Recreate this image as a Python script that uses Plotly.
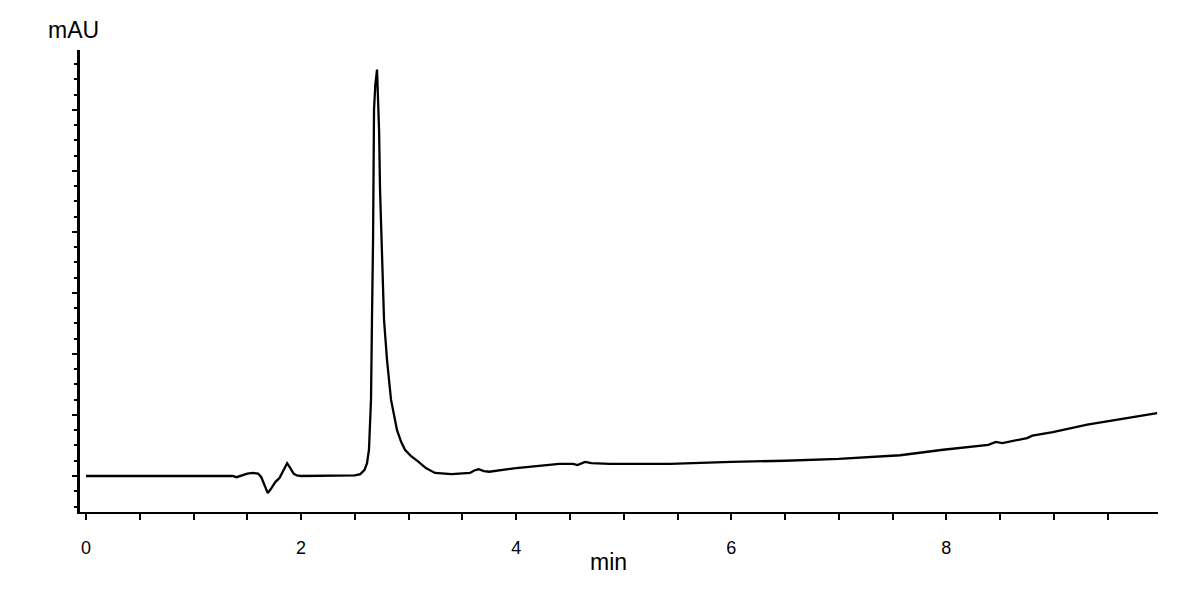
import plotly.graph_objects as go

time_min = [0.0, 1.36, 1.40, 1.45, 1.50, 1.55, 1.60, 1.63, 1.66, 1.69, 1.72, 1.76, 1.80,
            1.84, 1.87, 1.90, 1.93, 1.96, 2.0, 2.50, 2.55, 2.59, 2.613, 2.631, 2.650,
            2.659, 2.669, 2.678, 2.69, 2.706, 2.715, 2.725, 2.734, 2.743, 2.752, 2.762,
            2.771, 2.799, 2.836, 2.892, 2.93, 2.966, 3.02, 3.087, 3.16, 3.245, 3.40,
            3.57, 3.61, 3.65, 3.70, 3.75, 4.0, 4.4, 4.53, 4.57, 4.64, 4.70, 4.87, 5.43,
            5.6, 6.0, 6.5, 7.0, 7.57, 7.97, 8.39, 8.46, 8.52, 8.75, 8.80, 8.99, 9.31,
            9.68, 9.96]
signal_mau = [0, 0, -2, 1, 4, 5, 4, -2, -15, -28, -21, -10, -3,
              10, 21, 13, 4, 1, 0, 1, 3, 10, 21, 43, 125,
              256, 387, 600, 641, 666, 616, 567, 469, 420, 354, 289,
              256, 190, 125, 75, 56, 43, 33, 24, 13, 5, 3,
              5, 9, 11, 8, 7, 13, 20, 20, 18, 23, 21, 20, 20,
              21, 23, 25, 28, 34, 43, 51, 56, 54, 62, 66, 72, 84,
              95, 103]

fig = go.Figure()
fig.add_trace(go.Scatter(x=time_min, y=signal_mau, mode="lines",
                         line=dict(color="black", width=2.3),
                         hoverinfo="skip"))

font_family = "Liberation Sans, Arial, sans-serif"
fig.update_layout(
    width=1200, height=600,
    margin=dict(l=72, r=50, t=42, b=96),
    paper_bgcolor="white", plot_bgcolor="white",
    showlegend=False,
    font=dict(family=font_family, color="black", size=17),
    xaxis=dict(range=[-0.056, 9.968], showgrid=False, zeroline=False,
               showline=True, linecolor="black", linewidth=2,
               ticks="outside", ticklen=6, tickwidth=2, tickcolor="black",
               tickmode="linear", tick0=0, dtick=2,
               ticklabelstandoff=12,
               tickfont=dict(size=18, family=font_family, color="black"),
               minor=dict(dtick=0.5, ticks="outside", ticklen=6, tickwidth=2,
                          tickcolor="black", showgrid=False)),
    yaxis=dict(range=[-59, 698], showgrid=False, zeroline=False,
               showline=True, linecolor="black", linewidth=2.5,
               ticks="outside", ticklen=5, tickwidth=2, tickcolor="black",
               dtick=100, tick0=0, showticklabels=False,
               minor=dict(dtick=25, ticks="outside", ticklen=3, tickwidth=2,
                          tickcolor="black", showgrid=False)),
    annotations=[
        dict(text="mAU", xref="paper", yref="paper", x=-0.006, y=1.0,
             xanchor="center", yanchor="middle", yshift=20, showarrow=False,
             font=dict(size=23, family=font_family, color="black")),
        dict(text="min", xref="paper", yref="paper", x=0.4907, y=0.0,
             xanchor="center", yanchor="middle", yshift=-50, showarrow=False,
             font=dict(size=23, family=font_family, color="black")),
    ],
)

fig.write_html("out.html")
